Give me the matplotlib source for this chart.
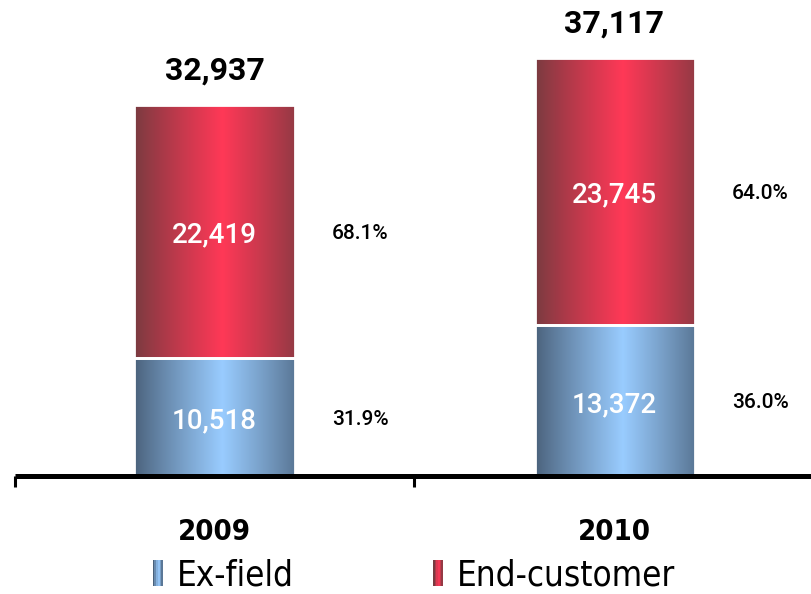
import numpy as np
import matplotlib.pyplot as plt
from matplotlib.patches import Rectangle
from matplotlib.legend_handler import HandlerBase

years = ['2009', '2010']
ex_field = [10518, 13372]
end_customer = [22419, 23745]
totals = [32937, 37117]
ex_pct = ['31.9%', '36.0%']
end_pct = ['68.1%', '64.0%']

blue_edge, blue_mid = np.array([0.29, 0.38, 0.48]), np.array([0.60, 0.80, 1.00])
red_edge, red_mid = np.array([0.47, 0.23, 0.25]), np.array([1.00, 0.22, 0.34])

label_font = ['DejaVu Sans']
num_font = ['Roboto', 'DejaVu Sans']


def gradient(edge, mid, n=200):
    t = np.linspace(0, 1, n)
    k = np.clip(1 - np.abs(t - 0.55) / 0.55, 0, 1) ** 0.9
    return (edge[None, :] * (1 - k[:, None]) + mid[None, :] * k[:, None])[None, :, :]


def shade_bars(ax, bars, edge, mid):
    img = gradient(edge, mid)
    for b in bars:
        x, y = b.get_x(), b.get_y()
        w, h = b.get_width(), b.get_height()
        im = ax.imshow(img, extent=[x, x + w, y, y + h], aspect='auto',
                       interpolation='bilinear', zorder=1)
        im.set_clip_path(b)


class GradientHandle(HandlerBase):
    def __init__(self, edge, mid):
        super().__init__()
        self.edge, self.mid = edge, mid

    def create_artists(self, legend, orig_handle, xdescent, ydescent, width, height, fontsize, trans):
        arts = []
        n = 6
        cols = gradient(self.edge, self.mid, n)[0]
        w = width / n
        for i in range(n):
            arts.append(Rectangle((-xdescent + i * w, -ydescent - 0.15 * height), w * 1.05, height * 1.3,
                                  facecolor=cols[i], edgecolor='none', transform=trans))
        return arts


fig = plt.figure(figsize=(8.12, 5.94), dpi=100)
ax = fig.add_axes([14.5 / 812, 118 / 594, 800 / 812, 476 / 594])

x = np.arange(len(years))
bw = 0.4
b1 = ax.bar(x, ex_field, bw, facecolor='none', edgecolor='white', linewidth=2, zorder=2)
b2 = ax.bar(x, end_customer, bw, bottom=ex_field, facecolor='none', edgecolor='white', linewidth=2, zorder=2)
shade_bars(ax, b1, blue_edge, blue_mid)
shade_bars(ax, b2, red_edge, red_mid)

ax.set_xlim(-0.5, 1.5)
ax.set_ylim(0, 42270)

for i in range(len(years)):
    ax.text(x[i], ex_field[i] / 2 - 400, f'{ex_field[i]:,}', ha='center', va='center',
            color='white', fontsize=20, fontweight='medium', family=num_font, zorder=3)
    ax.text(x[i], ex_field[i] + end_customer[i] / 2 - 300, f'{end_customer[i]:,}', ha='center', va='center',
            color='white', fontsize=20, fontweight='medium', family=num_font, zorder=3)
    ax.text(x[i] + 0.365, ex_field[i] / 2 - 200, ex_pct[i], ha='center', va='center',
            fontsize=15, fontweight='medium', family=num_font)
    ax.text(x[i] + 0.365, ex_field[i] + end_customer[i] / 2 - 200, end_pct[i], ha='center', va='center',
            fontsize=15, fontweight='medium', family=num_font)
    ax.text(x[i], totals[i] + 3100, f'{totals[i]:,}', ha='center', va='center',
            fontsize=23, fontweight='bold', family=num_font)
    ax.text(x[i], -5000, years[i], ha='center', va='center',
            fontsize=21, fontweight='bold', fontstretch='condensed', family=label_font)

for s in ['top', 'right', 'left']:
    ax.spines[s].set_visible(False)
ax.spines['bottom'].set_linewidth(3.6)
ax.spines['bottom'].set_capstyle('butt')
ax.set_yticks([])
ax.set_xticks([-0.5, 0.5, 1.5])
ax.set_xticklabels([])
ax.tick_params(axis='x', direction='out', length=8, width=2.2)

h1 = Rectangle((0, 0), 1, 1)
h2 = Rectangle((0, 0), 1, 1)
fig.legend([h1, h2], ['Ex-field', 'End-customer'], loc='center', bbox_to_anchor=(414 / 812, 19 / 594),
           ncol=2, frameon=False, handlelength=0.3, handleheight=0.5, handletextpad=0.4, columnspacing=4.0,
           borderpad=0.2, prop={'family': label_font, 'size': 25, 'stretch': 'condensed'},
           handler_map={h1: GradientHandle(blue_edge, blue_mid), h2: GradientHandle(red_edge, red_mid)})

fig.savefig('out.png', dpi=100)
